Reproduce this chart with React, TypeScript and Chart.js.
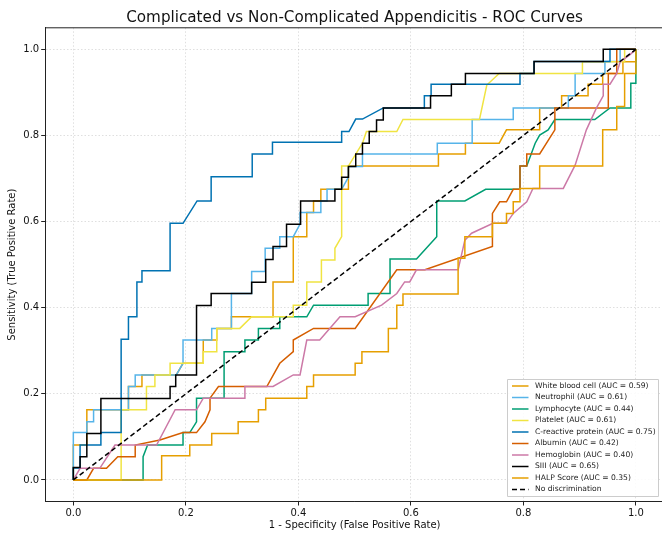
import { useEffect, useRef } from "react";
import { Chart, registerables } from "chart.js";

Chart.register(...registerables);

const chartTitle = "Complicated vs Non-Complicated Appendicitis - ROC Curves";
const xAxisLabel = "1 - Specificity (False Positive Rate)";
const yAxisLabel = "Sensitivity (True Positive Rate)";

const seriesNames = [
  "White blood cell",
  "Neutrophil",
  "Lymphocyte",
  "Platelet",
  "C-reactive protein",
  "Albumin",
  "Hemoglobin",
  "SIII",
  "HALP Score",
];
const aucValues = [0.59, 0.61, 0.44, 0.61, 0.75, 0.42, 0.4, 0.65, 0.35];
const seriesColors = [
  "#E69F00",
  "#56B4E9",
  "#009E73",
  "#F0E442",
  "#0072B2",
  "#D55E00",
  "#CC79A7",
  "#000000",
  "#E69F00",
];
const axisTicks = [0, 0.2, 0.4, 0.6, 0.8, 1.0];
const diagonalLabel = "No discrimination";
const diagonalLine = [[0, 0], [1, 1]];

// [FPR, TPR] points
const wbcRoc = [[0,0],[0,0.081],[0.024,0.081],[0.024,0.163],[0.098,0.163],[0.098,0.217],[0.122,0.217],[0.122,0.244],[0.183,0.244],[0.195,0.271],[0.231,0.271],[0.231,0.325],[0.255,0.325],[0.255,0.352],[0.281,0.352],[0.281,0.379],[0.355,0.379],[0.355,0.46],[0.391,0.46],[0.391,0.565],[0.415,0.565],[0.415,0.621],[0.427,0.621],[0.427,0.648],[0.44,0.648],[0.44,0.675],[0.489,0.675],[0.489,0.729],[0.649,0.729],[0.649,0.757],[0.697,0.757],[0.697,0.782],[0.757,0.782],[0.77,0.813],[0.829,0.813],[0.829,0.864],[0.868,0.864],[0.868,0.892],[0.915,0.892],[0.915,0.919],[0.941,0.919],[0.941,0.944],[0.977,0.944],[0.977,0.971],[1,0.971],[1,1]];

const neutrophilRoc = [[0,0],[0,0.11],[0.024,0.11],[0.024,0.135],[0.036,0.135],[0.036,0.163],[0.098,0.163],[0.098,0.217],[0.11,0.217],[0.11,0.244],[0.183,0.244],[0.195,0.271],[0.195,0.325],[0.246,0.325],[0.246,0.352],[0.281,0.352],[0.281,0.433],[0.317,0.433],[0.317,0.484],[0.341,0.484],[0.341,0.538],[0.367,0.538],[0.367,0.565],[0.391,0.565],[0.403,0.594],[0.403,0.621],[0.44,0.621],[0.44,0.648],[0.451,0.648],[0.451,0.675],[0.477,0.675],[0.489,0.703],[0.489,0.728],[0.514,0.728],[0.514,0.757],[0.647,0.757],[0.647,0.782],[0.709,0.782],[0.709,0.837],[0.782,0.837],[0.782,0.864],[0.88,0.864],[0.88,0.892],[0.892,0.892],[0.892,0.944],[0.945,0.944],[0.945,0.972],[0.972,0.972],[0.972,1],[1,1]];

const lymphocyteRoc = [[0,0],[0.124,0],[0.124,0.054],[0.132,0.081],[0.195,0.081],[0.195,0.11],[0.207,0.11],[0.219,0.135],[0.219,0.19],[0.268,0.19],[0.268,0.298],[0.305,0.298],[0.305,0.325],[0.329,0.325],[0.329,0.352],[0.367,0.352],[0.367,0.379],[0.415,0.379],[0.427,0.406],[0.524,0.406],[0.524,0.433],[0.563,0.433],[0.563,0.513],[0.61,0.513],[0.646,0.565],[0.646,0.648],[0.696,0.648],[0.733,0.675],[0.794,0.675],[0.794,0.729],[0.806,0.729],[0.821,0.782],[0.829,0.801],[0.844,0.813],[0.856,0.837],[0.927,0.837],[0.954,0.864],[0.991,0.864],[0.991,0.921],[1,0.921],[1,1]];

const plateletRoc = [[0,0],[0.085,0],[0.085,0.163],[0.13,0.163],[0.13,0.217],[0.145,0.217],[0.145,0.244],[0.172,0.244],[0.172,0.271],[0.231,0.271],[0.231,0.298],[0.255,0.298],[0.255,0.352],[0.296,0.352],[0.317,0.379],[0.391,0.379],[0.391,0.406],[0.415,0.406],[0.415,0.46],[0.441,0.46],[0.441,0.511],[0.465,0.511],[0.465,0.538],[0.477,0.565],[0.477,0.729],[0.489,0.729],[0.514,0.782],[0.521,0.809],[0.575,0.809],[0.586,0.837],[0.722,0.837],[0.735,0.917],[0.757,0.944],[0.905,0.944],[0.905,0.971],[0.98,0.971],[0.98,1],[1,1]];

const crpRoc = [[0,0],[0,0.028],[0.012,0.028],[0.012,0.081],[0.049,0.081],[0.049,0.11],[0.085,0.11],[0.085,0.327],[0.098,0.327],[0.098,0.379],[0.113,0.379],[0.113,0.46],[0.122,0.46],[0.122,0.486],[0.172,0.486],[0.172,0.596],[0.195,0.596],[0.22,0.648],[0.245,0.648],[0.245,0.704],[0.318,0.704],[0.318,0.757],[0.354,0.757],[0.354,0.784],[0.477,0.784],[0.477,0.809],[0.49,0.809],[0.502,0.838],[0.514,0.838],[0.551,0.864],[0.624,0.864],[0.624,0.892],[0.636,0.892],[0.636,0.919],[0.794,0.919],[0.794,0.944],[0.819,0.944],[0.819,0.972],[0.954,0.972],[0.954,1],[1,1]];

const albuminRoc = [[0,0],[0.024,0],[0.036,0.027],[0.059,0.027],[0.079,0.054],[0.11,0.054],[0.11,0.081],[0.154,0.093],[0.195,0.11],[0.219,0.11],[0.234,0.135],[0.243,0.163],[0.243,0.19],[0.258,0.217],[0.344,0.217],[0.367,0.271],[0.391,0.298],[0.391,0.325],[0.427,0.352],[0.501,0.352],[0.575,0.488],[0.625,0.488],[0.745,0.542],[0.745,0.619],[0.758,0.646],[0.77,0.646],[0.782,0.675],[0.794,0.675],[0.794,0.729],[0.806,0.729],[0.806,0.757],[0.829,0.757],[0.856,0.813],[0.856,0.864],[0.951,0.864],[0.951,0.944],[0.966,0.944],[0.966,1],[1,1]];

const hemoglobinRoc = [[0,0],[0.012,0.027],[0.047,0.027],[0.074,0.081],[0.148,0.081],[0.181,0.163],[0.219,0.163],[0.231,0.19],[0.305,0.19],[0.305,0.217],[0.355,0.217],[0.391,0.244],[0.403,0.244],[0.415,0.325],[0.438,0.325],[0.474,0.379],[0.501,0.379],[0.548,0.406],[0.575,0.433],[0.589,0.46],[0.598,0.46],[0.61,0.488],[0.684,0.488],[0.696,0.557],[0.708,0.573],[0.746,0.596],[0.77,0.596],[0.782,0.619],[0.806,0.646],[0.817,0.677],[0.871,0.677],[0.892,0.731],[0.912,0.813],[0.93,0.864],[0.942,0.892],[0.942,0.919],[0.954,0.919],[0.966,0.944],[0.972,0.971],[0.989,0.987],[1,1]];

const siiiRoc = [[0,0],[0,0.029],[0.012,0.029],[0.012,0.054],[0.024,0.054],[0.024,0.108],[0.049,0.108],[0.049,0.189],[0.172,0.189],[0.172,0.217],[0.182,0.217],[0.182,0.244],[0.219,0.244],[0.219,0.405],[0.245,0.405],[0.245,0.433],[0.317,0.433],[0.317,0.459],[0.342,0.459],[0.342,0.512],[0.355,0.512],[0.355,0.542],[0.379,0.542],[0.379,0.594],[0.404,0.594],[0.404,0.648],[0.465,0.648],[0.465,0.675],[0.477,0.675],[0.477,0.703],[0.489,0.703],[0.489,0.728],[0.502,0.728],[0.502,0.757],[0.514,0.757],[0.514,0.782],[0.526,0.782],[0.526,0.809],[0.539,0.809],[0.539,0.836],[0.551,0.836],[0.551,0.864],[0.635,0.864],[0.635,0.892],[0.672,0.892],[0.672,0.919],[0.697,0.919],[0.697,0.944],[0.819,0.944],[0.819,0.972],[0.942,0.972],[0.942,1],[1,1]];

const halpRoc = [[0,0],[0.157,0],[0.157,0.056],[0.207,0.056],[0.207,0.081],[0.246,0.081],[0.246,0.108],[0.293,0.108],[0.293,0.135],[0.329,0.135],[0.329,0.163],[0.342,0.163],[0.342,0.19],[0.415,0.19],[0.415,0.217],[0.427,0.217],[0.427,0.244],[0.501,0.244],[0.501,0.271],[0.513,0.271],[0.513,0.298],[0.56,0.298],[0.56,0.352],[0.575,0.352],[0.575,0.406],[0.586,0.406],[0.586,0.432],[0.684,0.432],[0.684,0.515],[0.696,0.515],[0.696,0.565],[0.745,0.565],[0.745,0.596],[0.77,0.596],[0.77,0.619],[0.782,0.619],[0.782,0.646],[0.794,0.646],[0.794,0.677],[0.829,0.677],[0.829,0.729],[0.941,0.729],[0.941,0.813],[0.966,0.813],[0.966,0.867],[0.98,0.867],[0.98,0.944],[1,0.944],[1,1]];

const rocCurves = [wbcRoc, neutrophilRoc, lymphocyteRoc, plateletRoc, crpRoc, albuminRoc, hemoglobinRoc, siiiRoc, halpRoc];

const FONT = "'DejaVu Sans', sans-serif";

const toPoints = (arr: number[][]) => arr.map(([x, y]) => ({ x, y }));

export default function App() {
  const canvasRef = useRef<HTMLCanvasElement | null>(null);

  useEffect(() => {
    const canvas = canvasRef.current;
    if (!canvas) return;

    const datasets: any[] = rocCurves.map((curve, i) => ({
      label: `${seriesNames[i]} (AUC = ${aucValues[i].toFixed(2)})`,
      data: toPoints(curve),
      borderColor: seriesColors[i],
      backgroundColor: seriesColors[i],
      borderWidth: 1.5,
      pointRadius: 0,
      showLine: true,
      fill: false,
      tension: 0,
      order: rocCurves.length - i,
    }));
    datasets.push({
      label: diagonalLabel,
      data: toPoints(diagonalLine),
      borderColor: "#000000",
      backgroundColor: "#000000",
      borderWidth: 1.5,
      borderDash: [5, 3],
      pointRadius: 0,
      showLine: true,
      fill: false,
      order: 0,
    });

    const framePlugin = {
      id: "frame",
      afterDraw(chart: any) {
        const { ctx, chartArea } = chart;
        ctx.save();
        ctx.strokeStyle = "#222222";
        ctx.lineWidth = 1;
        // top spine (right spine falls outside the visible picture)
        ctx.beginPath();
        ctx.moveTo(chartArea.left, chartArea.top);
        ctx.lineTo(chart.width, chartArea.top);
        ctx.stroke();
        // title centred over the plot area
        ctx.fillStyle = "#111111";
        ctx.font = `15.2px ${FONT}`;
        ctx.textAlign = "center";
        ctx.textBaseline = "middle";
        ctx.fillText(chartTitle, (chartArea.left + chartArea.right) / 2, 18);
        // legend box (lower right)
        const n = datasets.length;
        const bx = 507.5, by = 379.5, bw = 151, bh = 117;
        ctx.fillStyle = "rgba(255,255,255,0.85)";
        ctx.strokeStyle = "#cccccc";
        ctx.lineWidth = 1;
        ctx.beginPath();
        ctx.rect(bx, by, bw, bh);
        ctx.fill();
        ctx.stroke();
        ctx.font = `7.6px ${FONT}`;
        ctx.textBaseline = "middle";
        ctx.textAlign = "left";
        for (let i = 0; i < n; i++) {
          const ds = datasets[i];
          const y = 386 + i * 11.5;
          ctx.strokeStyle = ds.borderColor;
          ctx.lineWidth = 1.5;
          ctx.setLineDash(ds.borderDash || []);
          ctx.beginPath();
          ctx.moveTo(512, y);
          ctx.lineTo(528.5, y);
          ctx.stroke();
          ctx.setLineDash([]);
          ctx.fillStyle = "#222222";
          ctx.fillText(ds.label, 535, y);
        }
        ctx.restore();
      },
    };

    const chart = new Chart(canvas, {
      type: "scatter",
      data: { datasets },
      plugins: [framePlugin],
      options: {
        animation: false,
        responsive: false,
        devicePixelRatio: 1,
        layout: { padding: { left: 0, right: 16, top: 27.8, bottom: 0 } },
        plugins: {
          legend: { display: false },
          tooltip: { enabled: false },
          title: { display: false },
        },
        scales: {
          x: {
            type: "linear",
            min: -0.05,
            max: 1.05,
            afterBuildTicks: (s: any) => {
              s.ticks = axisTicks.map((v) => ({ value: v }));
            },
            afterFit: (s: any) => {
              s.height = 31.5;
            },
            ticks: {
              autoSkip: false,
              maxRotation: 0,
              padding: 2,
              color: "#111111",
              font: { family: FONT, size: 10 },
              callback: (v: any) => Number(v).toFixed(1),
            },
            grid: {
              color: "rgba(0,0,0,0.16)",
              lineWidth: 0.8,
              tickLength: 4,
              tickColor: "#222222",
              tickWidth: 1,
            },
            border: { display: true, color: "#222222", width: 1, dash: [1.5, 2] },
            title: {
              display: true,
              text: xAxisLabel,
              color: "#111111",
              font: { family: FONT, size: 10 },
              padding: { top: 0, bottom: 2 },
            },
          },
          y: {
            type: "linear",
            min: -0.05,
            max: 1.05,
            afterBuildTicks: (s: any) => {
              s.ticks = axisTicks.map((v) => ({ value: v }));
            },
            afterFit: (s: any) => {
              s.width = 45.2;
            },
            ticks: {
              autoSkip: false,
              padding: 2,
              color: "#111111",
              font: { family: FONT, size: 10 },
              callback: (v: any) => Number(v).toFixed(1),
            },
            grid: {
              color: "rgba(0,0,0,0.16)",
              lineWidth: 0.8,
              tickLength: 4,
              tickColor: "#222222",
              tickWidth: 1,
            },
            border: { display: true, color: "#222222", width: 1, dash: [1.5, 2] },
            title: {
              display: true,
              text: yAxisLabel,
              color: "#111111",
              font: { family: FONT, size: 10 },
              padding: { top: 6, bottom: 0 },
            },
          },
        },
      } as any,
    });

    return () => {
      chart.destroy();
    };
  }, []);

  return (
    <div
      style={{
        position: "fixed",
        left: 0,
        top: 0,
        width: 662,
        height: 533,
        overflow: "hidden",
        background: "#ffffff",
      }}
    >
      <canvas ref={canvasRef} width={680} height={533} style={{ display: "block", width: 680, height: 533 }} />
    </div>
  );
}
